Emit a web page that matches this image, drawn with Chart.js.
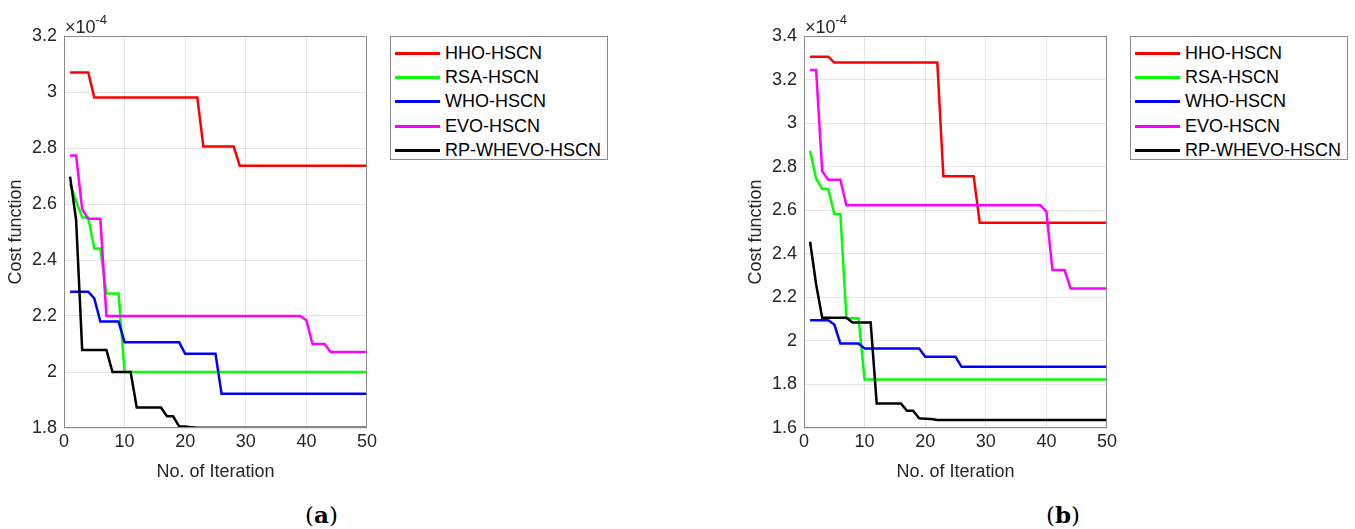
<!DOCTYPE html>
<html>
<head>
<meta charset="utf-8">
<script src="https://cdn.jsdelivr.net/npm/chart.js@4/dist/chart.umd.min.js"></script>
<style>
    body { margin: 0; background: #fff; width: 1355px; height: 529px; position: relative; overflow: hidden; }
    .panel { position: absolute; top: 0; }
    .legend {
        position: absolute; top: 36px; width: 216px; height: 118px;
        border: 1px solid #8c8c8c; background: #fff; padding-top: 4px;
        font-family: "Liberation Sans", Arial, sans-serif; font-size: 18px; color: #000;
    }
    .legend-item { height: 24.4px; display: flex; align-items: center; white-space: nowrap; }
    .legend-line { width: 45px; height: 3px; margin-left: 4px; margin-right: 5px; }
    .caption {
        position: absolute; top: 501px; font-family: "DejaVu Serif", "Liberation Serif", serif;
        font-size: 23px; color: #000;
    }
    .caption b { font-weight: bold; }
</style>
</head>
<body>
<div class="panel" style="left:0"><canvas id="chart-a" width="380" height="490"></canvas></div>
<div class="panel" style="left:740px"><canvas id="chart-b" width="380" height="490"></canvas></div>
<div class="legend" id="legend-a" style="left:390px"></div>
<div class="legend" id="legend-b" style="left:1130px"></div>
<div class="caption" style="left:305px">(<b>a</b>)</div>
<div class="caption" style="left:1046px">(<b>b</b>)</div>

<script>
// Series names and colours (shared by both panels)
const seriesNames = ['HHO-HSCN', 'RSA-HSCN', 'WHO-HSCN', 'EVO-HSCN', 'RP-WHEVO-HSCN'];
const seriesColors = ['#ff0000', '#00ff00', '#0000ff', '#ff00ff', '#000000'];

// Axis ticks
const xTicks = [0, 10, 20, 30, 40, 50];
const yTicksA = [1.8, 2.0, 2.2, 2.4, 2.6, 2.8, 3.0, 3.2];
const yTicksB = [1.6, 1.8, 2.0, 2.2, 2.4, 2.6, 2.8, 3.0, 3.2, 3.4];

// Panel (a) cost function values, x 1e-4, iterations 1..50
const hhoA = [
    3.07, 3.07, 3.07, 3.07, 2.98, 2.98, 2.98, 2.98, 2.98, 2.98,
    2.98, 2.98, 2.98, 2.98, 2.98, 2.98, 2.98, 2.98, 2.98, 2.98,
    2.98, 2.98, 2.805, 2.805, 2.805, 2.805, 2.805, 2.805, 2.737, 2.737,
    2.737, 2.737, 2.737, 2.737, 2.737, 2.737, 2.737, 2.737, 2.737, 2.737,
    2.737, 2.737, 2.737, 2.737, 2.737, 2.737, 2.737, 2.737, 2.737, 2.737
];
const rsaA = [
    2.674, 2.61, 2.552, 2.552, 2.441, 2.441, 2.28, 2.28, 2.28, 2.0,
    2.0, 2.0, 2.0, 2.0, 2.0, 2.0, 2.0, 2.0, 2.0, 2.0,
    2.0, 2.0, 2.0, 2.0, 2.0, 2.0, 2.0, 2.0, 2.0, 2.0,
    2.0, 2.0, 2.0, 2.0, 2.0, 2.0, 2.0, 2.0, 2.0, 2.0,
    2.0, 2.0, 2.0, 2.0, 2.0, 2.0, 2.0, 2.0, 2.0, 2.0
];
const whoA = [
    2.287, 2.287, 2.287, 2.287, 2.263, 2.18, 2.18, 2.18, 2.18, 2.106,
    2.106, 2.106, 2.106, 2.106, 2.106, 2.106, 2.106, 2.106, 2.106, 2.065,
    2.065, 2.065, 2.065, 2.065, 2.065, 1.922, 1.922, 1.922, 1.922, 1.922,
    1.922, 1.922, 1.922, 1.922, 1.922, 1.922, 1.922, 1.922, 1.922, 1.922,
    1.922, 1.922, 1.922, 1.922, 1.922, 1.922, 1.922, 1.922, 1.922, 1.922
];
const evoA = [
    2.773, 2.773, 2.581, 2.547, 2.547, 2.547, 2.2, 2.2, 2.2, 2.2,
    2.2, 2.2, 2.2, 2.2, 2.2, 2.2, 2.2, 2.2, 2.2, 2.2,
    2.2, 2.2, 2.2, 2.2, 2.2, 2.2, 2.2, 2.2, 2.2, 2.2,
    2.2, 2.2, 2.2, 2.2, 2.2, 2.2, 2.2, 2.2, 2.2, 2.185,
    2.1, 2.1, 2.1, 2.071, 2.071, 2.071, 2.071, 2.071, 2.071, 2.071
];
const rpA = [
    2.698, 2.543, 2.079, 2.079, 2.079, 2.079, 2.079, 2.0, 2.0, 2.0,
    2.0, 1.873, 1.873, 1.873, 1.873, 1.873, 1.842, 1.842, 1.806, 1.805,
    1.803, 1.801, 1.801, 1.801, 1.801, 1.801, 1.801, 1.801, 1.801, 1.801,
    1.801, 1.801, 1.801, 1.801, 1.801, 1.801, 1.801, 1.801, 1.801, 1.801,
    1.801, 1.801, 1.801, 1.801, 1.801, 1.801, 1.801, 1.801, 1.801, 1.801
];

// Panel (b) cost function values, x 1e-4, iterations 1..50
const hhoB = [
    3.305, 3.305, 3.305, 3.305, 3.278, 3.278, 3.278, 3.278, 3.278, 3.278,
    3.278, 3.278, 3.278, 3.278, 3.278, 3.278, 3.278, 3.278, 3.278, 3.278,
    3.278, 3.278, 2.756, 2.756, 2.756, 2.756, 2.756, 2.756, 2.542, 2.542,
    2.542, 2.542, 2.542, 2.542, 2.542, 2.542, 2.542, 2.542, 2.542, 2.542,
    2.542, 2.542, 2.542, 2.542, 2.542, 2.542, 2.542, 2.542, 2.542, 2.542
];
const rsaB = [
    2.873, 2.745, 2.698, 2.698, 2.583, 2.583, 2.104, 2.104, 2.104, 1.823,
    1.823, 1.823, 1.823, 1.823, 1.823, 1.823, 1.823, 1.823, 1.823, 1.823,
    1.823, 1.823, 1.823, 1.823, 1.823, 1.823, 1.823, 1.823, 1.823, 1.823,
    1.823, 1.823, 1.823, 1.823, 1.823, 1.823, 1.823, 1.823, 1.823, 1.823,
    1.823, 1.823, 1.823, 1.823, 1.823, 1.823, 1.823, 1.823, 1.823, 1.823
];
const whoB = [
    2.095, 2.095, 2.095, 2.095, 2.075, 1.988, 1.988, 1.988, 1.988, 1.965,
    1.965, 1.965, 1.965, 1.965, 1.965, 1.965, 1.965, 1.965, 1.965, 1.927,
    1.927, 1.927, 1.927, 1.927, 1.927, 1.881, 1.881, 1.881, 1.881, 1.881,
    1.881, 1.881, 1.881, 1.881, 1.881, 1.881, 1.881, 1.881, 1.881, 1.881,
    1.881, 1.881, 1.881, 1.881, 1.881, 1.881, 1.881, 1.881, 1.881, 1.881
];
const evoB = [
    3.244, 3.244, 2.779, 2.74, 2.74, 2.74, 2.623, 2.623, 2.623, 2.623,
    2.623, 2.623, 2.623, 2.623, 2.623, 2.623, 2.623, 2.623, 2.623, 2.623,
    2.623, 2.623, 2.623, 2.623, 2.623, 2.623, 2.623, 2.623, 2.623, 2.623,
    2.623, 2.623, 2.623, 2.623, 2.623, 2.623, 2.623, 2.623, 2.623, 2.594,
    2.325, 2.325, 2.325, 2.24, 2.24, 2.24, 2.24, 2.24, 2.24, 2.24
];
const rpB = [
    2.455, 2.26, 2.106, 2.106, 2.106, 2.106, 2.106, 2.084, 2.084, 2.084,
    2.084, 1.712, 1.712, 1.712, 1.712, 1.712, 1.679, 1.679, 1.645, 1.643,
    1.641, 1.637, 1.637, 1.637, 1.637, 1.637, 1.637, 1.637, 1.637, 1.637,
    1.637, 1.637, 1.637, 1.637, 1.637, 1.637, 1.637, 1.637, 1.637, 1.637,
    1.637, 1.637, 1.637, 1.637, 1.637, 1.637, 1.637, 1.637, 1.637, 1.637
];

const AXIS_COLOR = '#262626';
const FONT = '"Liberation Sans", Arial, sans-serif';

/**
 * Draws the box round the plot area and the "x10^-4" exponent label
 */
const matlabBox = {
    id: 'matlabBox',
    afterDraw(chart) {
        const { ctx, chartArea: a } = chart;
        ctx.save();
        ctx.strokeStyle = '#8c8c8c';
        ctx.lineWidth = 1;
        ctx.strokeRect(a.left + 0.5, a.top + 0.5, a.right - a.left - 1, a.bottom - a.top - 1);

        ctx.fillStyle = AXIS_COLOR;
        ctx.textBaseline = 'alphabetic';
        ctx.font = '18px ' + FONT;
        ctx.fillText('\u00d710', a.left + 1, a.top - 3);
        const w = ctx.measureText('\u00d710').width;
        ctx.font = '13px ' + FONT;
        ctx.fillText('-4', a.left + 1 + w, a.top - 12);
        ctx.restore();
    }
};

const ConvergenceCharts = {
    /**
     * Build one convergence panel
     * @param {string} id canvas id
     * @param {Array} series list of value arrays, same order as seriesNames
     * @param {Array} yTicks tick values for the y axis
     */
    create(id, series, yTicks) {
        const ctx = document.getElementById(id);
        return new Chart(ctx, {
            type: 'line',
            data: {
                datasets: series.map((values, i) => ({
                    label: seriesNames[i],
                    data: values.map((v, k) => ({ x: k + 1, y: v })),
                    borderColor: seriesColors[i],
                    backgroundColor: seriesColors[i],
                    borderWidth: 2.5,
                    pointRadius: 0,
                    tension: 0,
                    // later series drawn on top
                    order: series.length - i
                }))
            },
            options: {
                responsive: false,
                animation: false,
                layout: { padding: { top: 36, right: 13, left: 0, bottom: 0 } },
                plugins: {
                    legend: { display: false },
                    tooltip: { enabled: false }
                },
                scales: {
                    x: {
                        type: 'linear',
                        min: xTicks[0],
                        max: xTicks[xTicks.length - 1],
                        afterBuildTicks: scale => { scale.ticks = xTicks.map(v => ({ value: v })); },
                        afterFit: scale => { scale.height = 62; },
                        grid: { color: 'rgba(38,38,38,0.12)', drawTicks: false },
                        border: { display: false },
                        ticks: { color: AXIS_COLOR, font: { family: FONT, size: 18 }, padding: 3, maxRotation: 0 },
                        title: {
                            display: true,
                            text: 'No. of Iteration',
                            color: AXIS_COLOR,
                            font: { family: FONT, size: 18 },
                            padding: { top: 0, bottom: 7 }
                        }
                    },
                    y: {
                        min: yTicks[0],
                        max: yTicks[yTicks.length - 1],
                        afterBuildTicks: scale => { scale.ticks = yTicks.map(v => ({ value: v })); },
                        afterFit: scale => { scale.width = 64; },
                        grid: { color: 'rgba(38,38,38,0.12)', drawTicks: false },
                        border: { display: false },
                        ticks: {
                            color: AXIS_COLOR,
                            font: { family: FONT, size: 18 },
                            padding: 7,
                            callback: v => String(+v.toFixed(1))
                        },
                        title: {
                            display: true,
                            text: 'Cost function',
                            color: AXIS_COLOR,
                            font: { family: FONT, size: 18 },
                            padding: { top: 5, bottom: 0 }
                        }
                    }
                }
            },
            plugins: [matlabBox]
        });
    },

    /**
     * Fill an HTML legend box from the series names and colours
     */
    buildLegend(id) {
        const box = document.getElementById(id);
        seriesNames.forEach((name, i) => {
            const item = document.createElement('div');
            item.className = 'legend-item';
            const line = document.createElement('span');
            line.className = 'legend-line';
            line.style.background = seriesColors[i];
            const text = document.createElement('span');
            text.textContent = name;
            item.appendChild(line);
            item.appendChild(text);
            box.appendChild(item);
        });
    }
};

ConvergenceCharts.create('chart-a', [hhoA, rsaA, whoA, evoA, rpA], yTicksA);
ConvergenceCharts.create('chart-b', [hhoB, rsaB, whoB, evoB, rpB], yTicksB);
ConvergenceCharts.buildLegend('legend-a');
ConvergenceCharts.buildLegend('legend-b');
</script>
</body>
</html>
